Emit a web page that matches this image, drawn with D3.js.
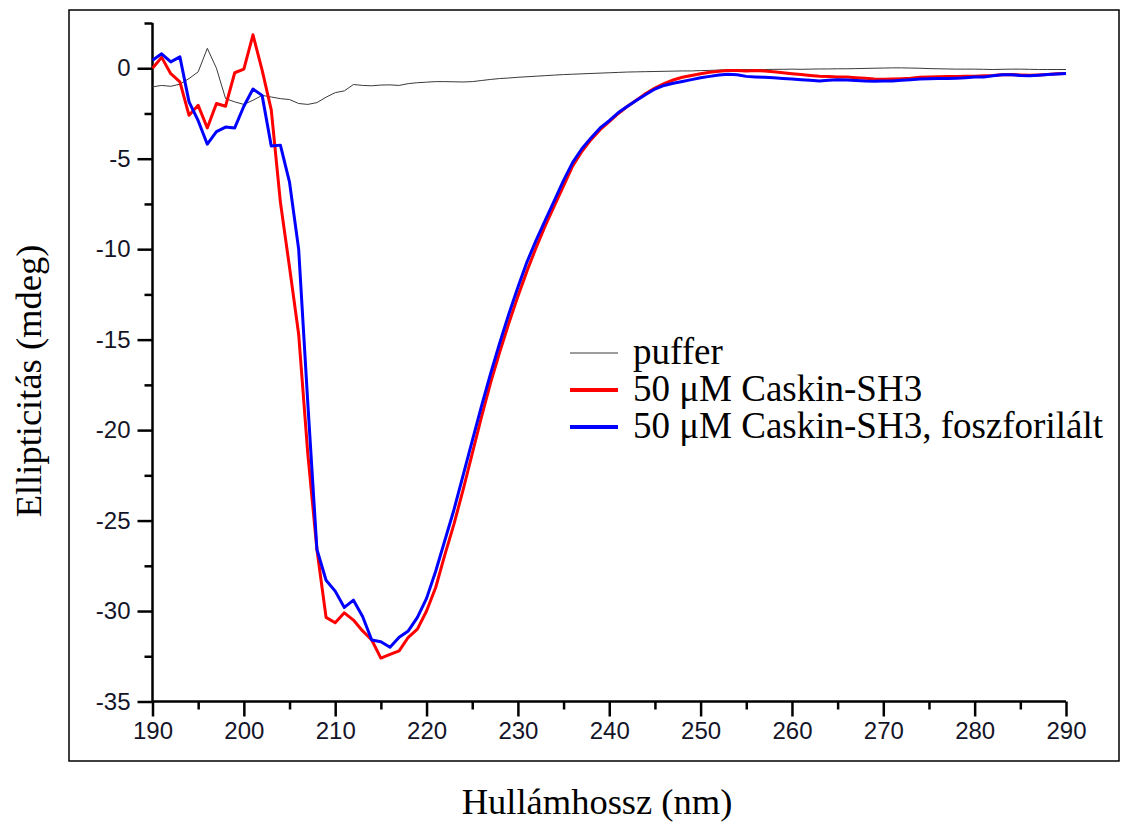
<!DOCTYPE html>
<html>
<head>
<meta charset="utf-8">
<script src="https://cdn.jsdelivr.net/npm/d3@7"></script>
<style>
  html, body { margin: 0; padding: 0; background: #fff; }
  svg { display: block; }
</style>
</head>
<body>
<svg id="chart" width="1123" height="825"></svg>
<script>
// ---------- DATA ----------
const wavelength = d3.range(190, 291); // 190..290 nm, 1 nm steps

const puffer = [
  -1.03, -0.95, -1.0, -0.88, -0.57, -0.2, 1.1, 0.0, -1.68, -1.86,
  -2.0, -1.77, -1.5, -1.59, -1.68, -1.73, -1.95, -2.0, -1.9, -1.6,
  -1.35, -1.25, -0.9, -0.95, -0.97, -0.93, -0.92, -0.95, -0.85, -0.8,
  -0.77, -0.74, -0.74, -0.75, -0.76, -0.74, -0.68, -0.62, -0.57, -0.54,
  -0.5, -0.47, -0.44, -0.41, -0.38, -0.35, -0.33, -0.31, -0.29, -0.27,
  -0.25, -0.23, -0.21, -0.2, -0.19, -0.18, -0.17, -0.16, -0.15, -0.15,
  -0.13, -0.12, -0.1, -0.08, -0.08, -0.07, -0.08, -0.07, -0.06, -0.06,
  -0.05, -0.06, -0.05, -0.04, -0.04, -0.03, -0.03, -0.02, -0.01, 0.0,
  0.01, 0.02, 0.02, 0.01, 0.0, -0.02, -0.03, -0.04, -0.05, -0.05,
  -0.05, -0.06, -0.07, -0.06, -0.05, -0.05, -0.06, -0.07, -0.07, -0.07,
  -0.07
];

const caskin = [
  0.0, 0.6, -0.3, -0.75, -2.6, -2.05, -3.3, -1.95, -2.1, -0.25,
  -0.05, 1.85, -0.1, -2.3, -7.4, -11.0, -14.7, -21.3, -26.6, -30.35,
  -30.65, -30.1, -30.5, -31.1, -31.6, -32.6, -32.4, -32.2, -31.45, -31.0,
  -30.0, -28.7, -26.9, -25.2, -23.3, -21.3, -19.3, -17.4, -15.7, -14.1,
  -12.6, -11.2, -9.9, -8.7, -7.6, -6.5, -5.4, -4.6, -3.95, -3.4,
  -2.95, -2.5, -2.1, -1.75, -1.4, -1.1, -0.85, -0.65, -0.5, -0.4,
  -0.3, -0.22, -0.17, -0.12, -0.12, -0.15, -0.13, -0.15, -0.2, -0.25,
  -0.3, -0.35, -0.4, -0.44, -0.46, -0.48, -0.48, -0.52, -0.56, -0.6,
  -0.61, -0.6, -0.58, -0.55, -0.5, -0.48, -0.47, -0.46, -0.45, -0.44,
  -0.44, -0.42, -0.4, -0.36, -0.35, -0.37, -0.39, -0.37, -0.34, -0.31,
  -0.29
];

const caskinPhos = [
  0.44, 0.8, 0.35, 0.63, -1.86, -2.9, -4.2, -3.5, -3.25, -3.3,
  -2.1, -1.15, -1.5, -4.3, -4.25, -6.3, -10.0, -18.5, -26.6, -28.3,
  -28.9, -29.8, -29.4, -30.3, -31.6, -31.7, -32.0, -31.45, -31.1, -30.35,
  -29.3, -27.8, -26.1, -24.4, -22.5, -20.6, -18.7, -16.9, -15.2, -13.6,
  -12.1, -10.7, -9.5, -8.4, -7.3, -6.2, -5.2, -4.45, -3.85, -3.3,
  -2.9, -2.45, -2.1, -1.77, -1.45, -1.15, -0.95, -0.83, -0.73, -0.63,
  -0.53, -0.45, -0.37, -0.33, -0.36, -0.45, -0.48, -0.5, -0.53, -0.57,
  -0.6, -0.63, -0.67, -0.7, -0.66, -0.63, -0.65, -0.68, -0.71, -0.72,
  -0.71, -0.7, -0.67, -0.63, -0.6, -0.58, -0.57, -0.57, -0.55, -0.52,
  -0.49, -0.48, -0.42, -0.36, -0.36, -0.4, -0.42, -0.39, -0.35, -0.32,
  -0.29
];

const xTicks = [190, 200, 210, 220, 230, 240, 250, 260, 270, 280, 290];
const xMinorTicks = [195, 205, 215, 225, 235, 245, 255, 265, 275, 285];
const yTicks = [0, -5, -10, -15, -20, -25, -30, -35];
const yMinorTicks = [2.5, -2.5, -7.5, -12.5, -17.5, -22.5, -27.5, -32.5];

const seriesNames = ["puffer", "50 \u03bcM Caskin-SH3", "50 \u03bcM Caskin-SH3, foszforilált"];
const seriesColors = ["#3a3a3a", "#ff0000", "#0000ff"];
const seriesWidths = [1, 3, 3];
const xTitle = "Hullámhossz (nm)";
const yTitle = "Ellipticitás (mdeg)";

// ---------- CHART ----------
const svg = d3.select("#chart");

// outer frame
svg.append("rect")
  .attr("x", 69).attr("y", 10)
  .attr("width", 1050).attr("height", 751)
  .attr("fill", "none").attr("stroke", "#000").attr("stroke-width", 1.5);

const x = d3.scaleLinear().domain([190, 290]).range([152.5, 1066]);
const y = d3.scaleLinear().domain([-35, 2.5]).range([701.5, 23]);

const tickFont = "'Liberation Sans', Arial, sans-serif";
const serif = "'Liberation Serif', 'Times New Roman', serif";

// x axis
const gx = svg.append("g").attr("transform", `translate(0,${y(-35)})`);
gx.call(d3.axisBottom(x).tickValues(xTicks).tickSize(15).tickPadding(5).tickFormat(d3.format("d")));
const gxm = svg.append("g").attr("transform", `translate(0,${y(-35)})`);
gxm.call(d3.axisBottom(x).tickValues(xMinorTicks).tickSize(8).tickFormat(""));

// y axis
const gy = svg.append("g").attr("transform", `translate(${x(190)},0)`);
gy.call(d3.axisLeft(y).tickValues(yTicks).tickSize(15).tickPadding(7).tickFormat(d => d3.format("d")(d).replace("\u2212", "-")));
const gym = svg.append("g").attr("transform", `translate(${x(190)},0)`);
gym.call(d3.axisLeft(y).tickValues(yMinorTicks).tickSize(8).tickFormat(""));

[gx, gxm, gy, gym].forEach(g => {
  g.select(".domain").attr("stroke", "#000").attr("stroke-width", 2.5);
  g.selectAll(".tick line").attr("stroke", "#000").attr("stroke-width", 2.5);
  g.selectAll(".tick text")
    .attr("fill", "#141428")
    .style("font-family", tickFont)
    .style("font-size", "24px");
});
gxm.select(".domain").remove();
gym.select(".domain").remove();
gx.select(".domain").attr("d", `M${x(190)},0H${x(290)}`);
gy.select(".domain").attr("d", `M0,${y(2.5)}V${y(-35)}`);

// lines
const allSeries = [puffer, caskin, caskinPhos];
const line = d3.line()
  .x((d, i) => x(wavelength[i]))
  .y(d => y(d));

allSeries.forEach((s, k) => {
  svg.append("path")
    .datum(s)
    .attr("d", line)
    .attr("fill", "none")
    .attr("stroke", seriesColors[k])
    .attr("stroke-width", seriesWidths[k])
    .attr("stroke-linejoin", "round");
});

// legend
const legend = svg.append("g");
const legY = [353, 390, 427];
seriesNames.forEach((name, k) => {
  legend.append("line")
    .attr("x1", 570).attr("x2", 618)
    .attr("y1", legY[k]).attr("y2", legY[k])
    .attr("stroke", seriesColors[k])
    .attr("stroke-width", k === 0 ? 1 : 4);
  legend.append("text")
    .attr("x", 633).attr("y", legY[k] + 11)
    .style("font-family", serif)
    .style("font-size", "37px")
    .attr("fill", "#000")
    .text(name);
});

// axis titles
svg.append("text")
  .attr("x", 597).attr("y", 814)
  .attr("text-anchor", "middle")
  .style("font-family", serif)
  .style("font-size", "36.5px")
  .text(xTitle);

svg.append("text")
  .attr("transform", `translate(41,381) rotate(-90)`)
  .attr("text-anchor", "middle")
  .style("font-family", serif)
  .style("font-size", "36.5px")
  .text(yTitle);
</script>
</body>
</html>
